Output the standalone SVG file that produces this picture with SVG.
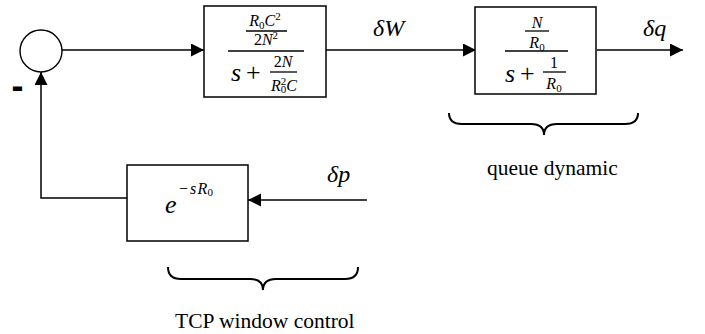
<svg xmlns="http://www.w3.org/2000/svg" width="705" height="334" viewBox="0 0 705 334">
<defs>
<marker id="arr" markerUnits="userSpaceOnUse" markerWidth="14" markerHeight="14" refX="13" refY="6.5" orient="auto">
<path d="M0,0 L13,6.5 L0,13 z" fill="#000"/>
</marker>
</defs>
<style>
.box{fill:#fff;stroke:#000;stroke-width:1.5}
.ln{fill:none;stroke:#000;stroke-width:1.5}
.br{fill:none;stroke:#000;stroke-width:2}
text{font-family:"Liberation Serif","Times New Roman",serif;fill:#000}
.i{font-style:italic}
.lbl{font-size:21.5px}
.sm{font-size:16px}
.xs{font-size:11px}
.big{font-size:24px}
.op{font-size:26px}
.fl{stroke:#000;stroke-width:1.3}
</style>
<rect width="705" height="334" fill="#fff"/>
<g id="connectors">
<path class="ln" d="M62,50 L204,50" marker-end="url(#arr)"/>
<path class="ln" d="M326,50 L476,50" marker-end="url(#arr)"/>
<path class="ln" d="M597,50 L683,50" marker-end="url(#arr)"/>
<path class="ln" d="M367,200 L248,200" marker-end="url(#arr)"/>
<path class="ln" d="M127,198 L41,198 L41,72" marker-end="url(#arr)"/>
</g>
<g id="sum">
<circle cx="41" cy="51" r="21" fill="#fff" stroke="#000" stroke-width="1.4"/>
<text x="11.5" y="98" style="font-family:'Liberation Sans',Arial,sans-serif;font-size:36px;font-weight:bold">-</text>
</g>
<g id="tcp-dynamic">
<rect class="box" x="204" y="6" width="122" height="91"/>
<text x="265" y="26" class="sm" text-anchor="middle"><tspan class="i">R</tspan><tspan class="xs" dy="3">0</tspan><tspan class="i" dy="-3">C</tspan><tspan class="xs" dy="-6">2</tspan></text>
<line class="fl" x1="246" y1="31" x2="287" y2="31"/>
<text x="266" y="45" class="sm" text-anchor="middle">2<tspan class="i">N</tspan><tspan class="xs" dy="-6">2</tspan></text>
<line class="fl" x1="228" y1="51" x2="304" y2="51"/>
<text x="231" y="81" class="op"><tspan class="i">s</tspan><tspan x="246">+</tspan></text>
<text x="283" y="67" class="sm" text-anchor="middle">2<tspan class="i">N</tspan></text>
<line class="fl" x1="270" y1="72" x2="297" y2="72"/>
<text x="284" y="91" class="sm" text-anchor="middle"><tspan class="i">R</tspan><tspan class="xs" dy="-6">2</tspan><tspan class="xs" dx="-5.5" dy="8">0</tspan><tspan class="i" dy="-2">C</tspan></text>
</g>
<g id="queue">
<rect class="box" x="475" y="7" width="121" height="87"/>
<text x="537" y="28" class="sm i" text-anchor="middle">N</text>
<line class="fl" x1="525" y1="31" x2="549" y2="31"/>
<text x="537" y="48" class="sm" text-anchor="middle"><tspan class="i">R</tspan><tspan class="xs" dy="3">0</tspan></text>
<line class="fl" x1="505" y1="51" x2="568" y2="51"/>
<text x="505" y="82" class="op"><tspan class="i">s</tspan><tspan x="520">+</tspan></text>
<text x="554" y="68" class="sm" text-anchor="middle">1</text>
<line class="fl" x1="543" y1="72" x2="566" y2="72"/>
<text x="554" y="89" class="sm" text-anchor="middle"><tspan class="i">R</tspan><tspan class="xs" dy="3">0</tspan></text>
</g>
<g id="delay">
<rect class="box" x="127" y="165" width="121" height="76"/>
<text x="165" y="213" class="i" style="font-size:26px">e</text>
<text y="194" style="font-size:16px"><tspan x="179">−</tspan><tspan x="190" class="i">s</tspan><tspan x="197.5" class="i">R</tspan><tspan x="207.5" class="xs" dy="2">0</tspan></text>
</g>
<g id="labels">
<text x="373" y="36" class="big i">δW</text>
<text x="643" y="36" class="big i">δq</text>
<text x="327" y="182" class="big i">δp</text>
<path class="br" d="M449,113 Q449,124 462,124 L531,124 Q544,124 544,135 Q544,124 557,124 L625,124 Q638,124 638,113"/>
<text x="487" y="175" class="lbl">queue dynamic</text>
<path class="br" d="M168,267 Q168,279 181,279 L250,279 Q263,279 263,290 Q263,279 276,279 L345,279 Q358,279 358,267"/>
<text x="175" y="328" class="lbl">TCP window control</text>
</g>
</svg>
